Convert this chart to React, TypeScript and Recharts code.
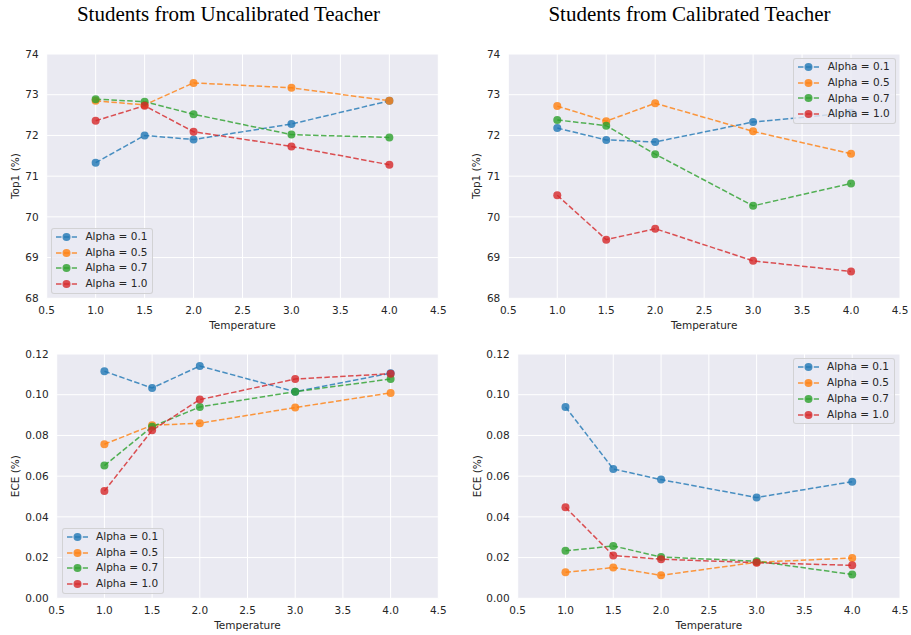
import React from 'react';
import { LineChart, Line, XAxis, YAxis, CartesianGrid, Legend } from 'recharts';

// ---------- data ----------
const temperatures = [1.0, 1.5, 2.0, 3.0, 4.0];
const alphaLabels = ['Alpha = 0.1', 'Alpha = 0.5', 'Alpha = 0.7', 'Alpha = 1.0'];
const seriesColors = ['#1f77b4', '#ff7f0e', '#2ca02c', '#d62728'];

const xTicks = [0.5, 1.0, 1.5, 2.0, 2.5, 3.0, 3.5, 4.0, 4.5];
const top1Ticks = [68, 69, 70, 71, 72, 73, 74];
const eceTicks = [0.0, 0.02, 0.04, 0.06, 0.08, 0.1, 0.12];

const uncalTop1A01 = [71.33, 72.0, 71.9, 72.28, 72.85];
const uncalTop1A05 = [72.85, 72.75, 73.29, 73.17, 72.85];
const uncalTop1A07 = [72.89, 72.83, 72.52, 72.02, 71.95];
const uncalTop1A10 = [72.36, 72.73, 72.09, 71.73, 71.28];

const calTop1A01 = [72.18, 71.89, 71.84, 72.33, 72.56];
const calTop1A05 = [72.72, 72.35, 72.79, 72.1, 71.55];
const calTop1A07 = [72.38, 72.24, 71.54, 70.27, 70.82];
const calTop1A10 = [70.53, 69.44, 69.71, 68.92, 68.66];

const uncalEceA01 = [0.1115, 0.1033, 0.1141, 0.1015, 0.1106];
const uncalEceA05 = [0.0757, 0.085, 0.086, 0.0937, 0.1009];
const uncalEceA07 = [0.0652, 0.0843, 0.094, 0.1015, 0.1077];
const uncalEceA10 = [0.0527, 0.0825, 0.0976, 0.1077, 0.1103];

const calEceA01 = [0.094, 0.0635, 0.0583, 0.0495, 0.0573];
const calEceA05 = [0.0128, 0.0151, 0.0113, 0.0177, 0.0198];
const calEceA07 = [0.0233, 0.0257, 0.0203, 0.0182, 0.0117];
const calEceA10 = [0.0447, 0.021, 0.0192, 0.0175, 0.0162];

const titles = ['Students from Uncalibrated Teacher', 'Students from Calibrated Teacher'];

// ---------- helpers ----------
const buildRows = (series: number[][]) =>
  temperatures.map((t, i) => {
    const row: Record<string, number> = { t };
    series.forEach((s, k) => {
      row['s' + k] = s[i];
    });
    return row;
  });

const FONT = '"DejaVu Sans", sans-serif';
const TICK_COLOR = '#262626';
const FS = 10.5;

const LegendBox = () => (
  <div
    style={{
      background: 'rgba(234,234,242,0.8)',
      border: '1px solid rgba(204,204,204,0.8)',
      borderRadius: 3,
      padding: '0 5px 1px 4px',
      fontFamily: FONT,
      fontSize: FS,
      color: TICK_COLOR,
      boxSizing: 'content-box',
    }}
  >
    {alphaLabels.map((lab, k) => (
      <div key={lab} style={{ display: 'flex', alignItems: 'center', height: 15.8 }}>
        <svg width={21} height={10} style={{ display: 'block' }}>
          <line x1={0} x2={21} y1={5} y2={5} stroke={seriesColors[k]} strokeWidth={1.5} strokeDasharray="5.5 2.4" strokeOpacity={0.8} />
          <circle cx={10.5} cy={5} r={4} fill={seriesColors[k]} fillOpacity={0.8} />
        </svg>
        <span style={{ marginLeft: 8.4, whiteSpace: 'nowrap', lineHeight: '15.8px' }}>{lab}</span>
      </div>
    ))}
  </div>
);

type PanelCfg = {
  x0: number;
  y0: number;
  w: number;
  h: number;
  plotLeft: number;
  plotRight: number;
  plotTop: number;
  plotBottom: number;
  series: number[][];
  yTicks: number[];
  yDomain: [number, number];
  yDigits: number;
  yLabel: string;
  yLabelGap: number;
  legendStyle: React.CSSProperties;
};

const Panel = ({ cfg }: { cfg: PanelCfg }) => {
  const rows = buildRows(cfg.series);
  const yAxisWidth = cfg.plotLeft - cfg.x0;
  const xAxisHeight = cfg.y0 + cfg.h - cfg.plotBottom;
  const margin = { top: cfg.plotTop - cfg.y0, right: cfg.x0 + cfg.w - cfg.plotRight, left: 0, bottom: 0 };

  const yLabelContent = (props: any) => {
    const vb = props.viewBox || {};
    const bx = vb.x + vb.width - cfg.yLabelGap;
    const cy = vb.y + vb.height / 2;
    return (
      <text
        x={bx}
        y={cy}
        transform={`rotate(-90, ${bx}, ${cy})`}
        textAnchor="middle"
        fontFamily={FONT}
        fontSize={FS}
        fill={TICK_COLOR}
      >
        {cfg.yLabel}
      </text>
    );
  };

  const xLabelContent = (props: any) => {
    const vb = props.viewBox || {};
    return (
      <text
        x={vb.x + vb.width / 2}
        y={vb.y + 30.4}
        textAnchor="middle"
        fontFamily={FONT}
        fontSize={FS}
        fill={TICK_COLOR}
      >
        Temperature
      </text>
    );
  };

  return (
    <div style={{ position: 'absolute', left: cfg.x0, top: cfg.y0 }}>
      <LineChart width={cfg.w} height={cfg.h} data={rows} margin={margin}>
        <CartesianGrid fill="#eaeaf2" stroke="#ffffff" strokeWidth={1} />
        <XAxis
          type="number"
          dataKey="t"
          domain={[0.5, 4.5]}
          ticks={xTicks}
          interval={0}
          allowDataOverflow
          height={xAxisHeight}
          axisLine={false}
          tickLine={false}
          tickSize={0}
          tickMargin={8.7}
          tickFormatter={(v: number) => v.toFixed(1)}
          tick={{ fontFamily: FONT, fontSize: FS, fill: TICK_COLOR }}
          label={{ content: xLabelContent }}
        />
        <YAxis
          type="number"
          domain={cfg.yDomain}
          ticks={cfg.yTicks}
          interval={0}
          allowDataOverflow
          width={yAxisWidth}
          axisLine={false}
          tickLine={false}
          tickSize={0}
          tickMargin={8}
          tickFormatter={(v: number) => v.toFixed(cfg.yDigits)}
          tick={{ fontFamily: FONT, fontSize: FS, fill: TICK_COLOR }}
          label={{ content: yLabelContent }}
        />
        {cfg.series.map((_, k) => (
          <Line
            key={k}
            type="linear"
            dataKey={'s' + k}
            name={alphaLabels[k]}
            stroke={seriesColors[k]}
            strokeWidth={1.5}
            strokeOpacity={0.8}
            strokeDasharray="5.5 2.4"
            dot={{ r: 4, fill: seriesColors[k], fillOpacity: 0.8, stroke: 'none' }}
            activeDot={false}
            isAnimationActive={false}
          />
        ))}
        <Legend
          layout="horizontal"
          align="center"
          verticalAlign="middle"
          content={() => <LegendBox />}
          wrapperStyle={{ ...cfg.legendStyle, width: 'auto', height: 'auto' }}
        />
      </LineChart>
    </div>
  );
};

const panels: PanelCfg[] = [
  {
    x0: 0, y0: 40, w: 460, h: 300,
    plotLeft: 46.7, plotRight: 438.3, plotTop: 54, plotBottom: 298.3,
    series: [uncalTop1A01, uncalTop1A05, uncalTop1A07, uncalTop1A10],
    yTicks: top1Ticks, yDomain: [68, 74], yDigits: 0,
    yLabel: 'Top1 (%)', yLabelGap: 27.4,
    legendStyle: { left: 51, bottom: 46 },
  },
  {
    x0: 455, y0: 40, w: 456, h: 300,
    plotLeft: 508.3, plotRight: 900, plotTop: 54, plotBottom: 298.3,
    series: [calTop1A01, calTop1A05, calTop1A07, calTop1A10],
    yTicks: top1Ticks, yDomain: [68, 74], yDigits: 0,
    yLabel: 'Top1 (%)', yLabelGap: 28,
    legendStyle: { right: 15.3, top: 18 },
  },
  {
    x0: 0, y0: 340, w: 460, h: 295,
    plotLeft: 56.7, plotRight: 438.3, plotTop: 354, plotBottom: 598.3,
    series: [uncalEceA01, uncalEceA05, uncalEceA07, uncalEceA10],
    yTicks: eceTicks, yDomain: [0, 0.12], yDigits: 2,
    yLabel: 'ECE (%)', yLabelGap: 37.4,
    legendStyle: { left: 61.7, bottom: 41 },
  },
  {
    x0: 455, y0: 340, w: 456, h: 295,
    plotLeft: 517.7, plotRight: 900, plotTop: 354, plotBottom: 598.3,
    series: [calEceA01, calEceA05, calEceA07, calEceA10],
    yTicks: eceTicks, yDomain: [0, 0.12], yDigits: 2,
    yLabel: 'ECE (%)', yLabelGap: 36.7,
    legendStyle: { right: 16, top: 18.3 },
  },
];

const titleCenters = [228.5, 689.5];

export default function App() {
  return (
    <div style={{ position: 'absolute', left: 0, top: 0, width: 911, height: 635, background: '#ffffff', overflow: 'hidden' }}>
      {titles.map((t, i) => (
        <div
          key={t}
          style={{
            position: 'absolute',
            left: titleCenters[i] - 200,
            width: 400,
            top: 4.4,
            textAlign: 'center',
            fontFamily: '"Liberation Serif", "Times New Roman", serif',
            fontSize: 21,
            lineHeight: '21px',
            color: '#000',
            whiteSpace: 'nowrap',
          }}
        >
          {t}
        </div>
      ))}
      {panels.map((p, i) => (
        <Panel key={i} cfg={p} />
      ))}
    </div>
  );
}
